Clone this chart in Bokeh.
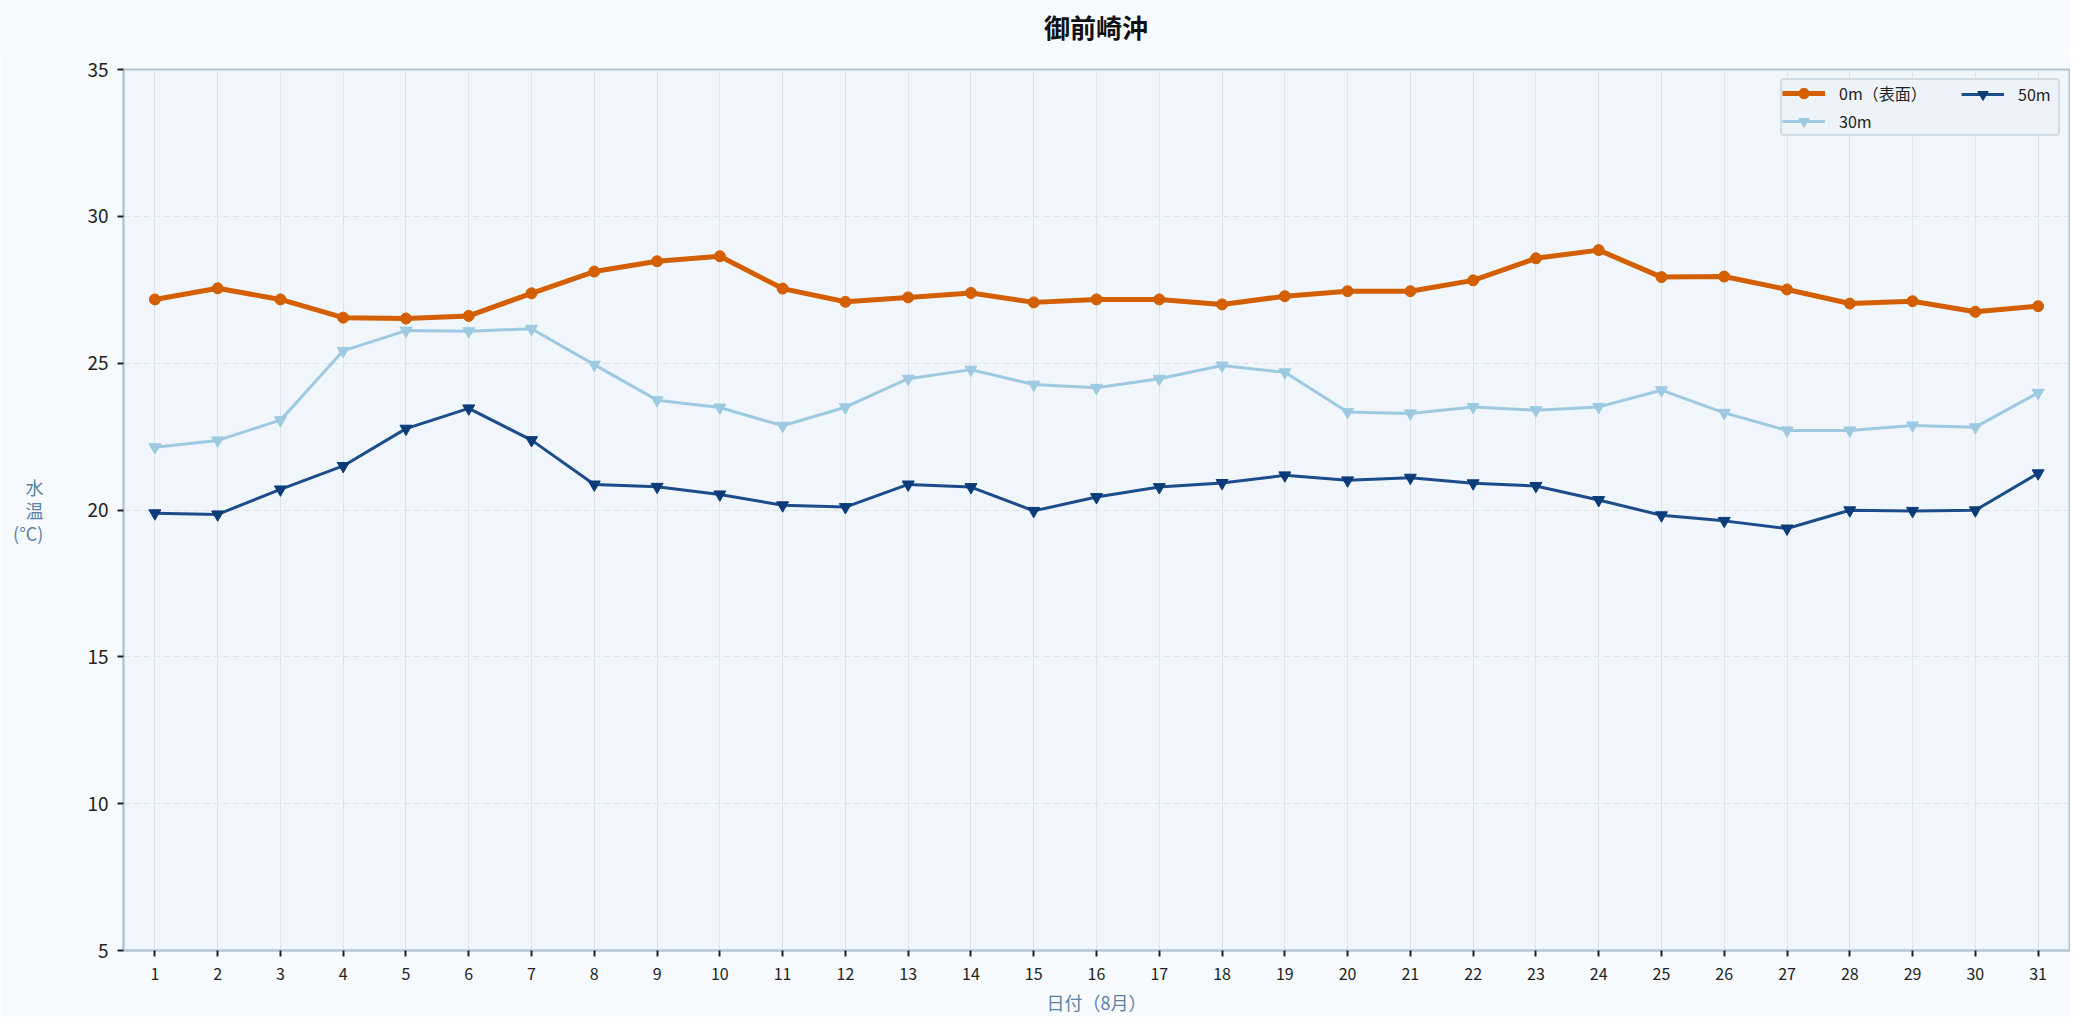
from bokeh.plotting import figure
from bokeh.layouts import column
from bokeh.models import FixedTicker, Legend, LegendItem, Div
from bokeh.embed import file_html
from bokeh.resources import INLINE

# data (August, off Omaezaki)
days = list(range(1, 32))
temp_0m = [27.17, 27.55, 27.17, 26.55, 26.52, 26.61, 27.38, 28.12, 28.47, 28.64,
           27.54, 27.09, 27.24, 27.39, 27.07, 27.17, 27.17, 27.00, 27.28, 27.45,
           27.45, 27.82, 28.57, 28.85, 27.93, 27.95, 27.51, 27.03, 27.11, 26.75,
           26.94]
temp_30m = [22.14, 22.37, 23.06, 25.42, 26.11, 26.09, 26.17, 24.95, 23.74, 23.49,
            22.87, 23.50, 24.47, 24.78, 24.27, 24.16, 24.47, 24.92, 24.69, 23.34,
            23.29, 23.51, 23.40, 23.51, 24.08, 23.31, 22.71, 22.71, 22.88, 22.82,
            23.99]
temp_50m = [19.89, 19.85, 20.70, 21.50, 22.77, 23.46, 22.38, 20.87, 20.79, 20.53,
            20.16, 20.10, 20.87, 20.78, 19.97, 20.44, 20.78, 20.92, 21.18, 21.01,
            21.10, 20.91, 20.82, 20.34, 19.82, 19.63, 19.37, 19.99, 19.97, 19.99,
            21.25]
y_ticks = [5, 10, 15, 20, 25, 30, 35]

FONT = "Noto Sans CJK JP"
SPINE = "#b3c5d5"
LABEL_BLUE = "#5b82a6"
PAGE_BG = "#f7fbff"

# title as a strip above the figure, centred over the plot frame
title = Div(
    text=(
        "<div style='margin-left:123px;width:1946px;text-align:center;"
        "line-height:54px;font-size:26px;font-weight:bold;color:#111111;"
        "font-family:\"Noto Sans CJK JP\";'>御前崎沖</div>"
    ),
    width=2070,
    height=54,
    margin=0,
    styles={"background-color": PAGE_BG},
)

p = figure(
    width=2070,
    height=963,
    x_range=(0.5, 31.5),
    y_range=(5, 35),
    toolbar_location=None,
    tools="",
    output_backend="svg",
    min_border_left=123,
    min_border_right=1,
    min_border_top=15,
    min_border_bottom=66,
)
p.background_fill_color = "#f0f6fc"
p.border_fill_color = PAGE_BG
p.outline_line_color = SPINE
p.outline_line_width = 2

# axes
p.xaxis.ticker = FixedTicker(ticks=days)
p.yaxis.ticker = FixedTicker(ticks=y_ticks)
for ax in (p.xaxis, p.yaxis):
    ax.axis_line_color = SPINE
    ax.axis_line_width = 2
    ax.major_tick_line_color = "#222222"
    ax.major_tick_line_width = 2
    ax.major_tick_out = 6
    ax.major_tick_in = 0
    ax.minor_tick_line_color = None
    ax.major_label_text_font = FONT
    ax.major_label_text_color = "#222222"
    ax.axis_label_text_font = FONT
    ax.axis_label_text_font_style = "normal"
    ax.axis_label_text_color = LABEL_BLUE
    ax.axis_label_text_font_size = "18px"
p.xaxis.major_label_text_font_size = "16px"
p.yaxis.major_label_text_font_size = "19px"
p.xaxis.major_label_standoff = 11
p.yaxis.major_label_standoff = 9
p.xaxis.axis_label = "日付（8月）"
p.xaxis.axis_label_text_line_height = 0.9
p.xaxis.axis_label_standoff = 6
p.yaxis.axis_label = "水\n温\n(°C)"
p.yaxis.axis_label_orientation = "horizontal"
p.yaxis.axis_label_text_line_height = 0.9
p.yaxis.axis_label_standoff = 41

# grid
p.xgrid.grid_line_color = "#dbe4ee"
p.xgrid.grid_line_width = 1
p.ygrid.grid_line_color = "#dbe4ee"
p.ygrid.grid_line_dash = "6 4"
p.ygrid.grid_line_width = 1

# series
l0 = p.line(days, temp_0m, line_color="#d35f00", line_width=5)
m0 = p.scatter(days, temp_0m, marker="circle", size=11,
               fill_color="#d35f00", line_color="#d35f00")
l30 = p.line(days, temp_30m, line_color="#9ecae1", line_width=3)
m30 = p.scatter(days, temp_30m, marker="inverted_triangle", size=12,
                fill_color="#9ecae1", line_color="#9ecae1")
l50 = p.line(days, temp_50m, line_color="#1c4c8a", line_width=3)
m50 = p.scatter(days, temp_50m, marker="inverted_triangle", size=12,
                fill_color="#0b3b78", line_color="#0b3b78")

legend_style = dict(
    location="top_right",
    label_text_font=FONT,
    label_text_font_size="16px",
    label_text_color="#222222",
    glyph_width=43,
    glyph_height=26,
    label_height=26,
    label_standoff=14,
    spacing=2,
)
# first column carries the frame, second column sits on top of it
legend = Legend(
    items=[
        LegendItem(label="0m（表面）", renderers=[l0, m0]),
        LegendItem(label="30m", renderers=[l30, m30]),
    ],
    label_width=219,
    padding=0,
    margin=9,
    background_fill_color="#eef3f9",
    background_fill_alpha=1.0,
    border_line_color=SPINE,
    border_line_width=2,
    border_radius=4,
    **legend_style,
)
legend2 = Legend(
    items=[LegendItem(label="50m", renderers=[l50, m50])],
    label_width=39,
    padding=9,
    margin=12,
    background_fill_alpha=0,
    border_line_color=None,
    **legend_style,
)
p.add_layout(legend)
p.add_layout(legend2)

layout = column(title, p, spacing=0)
open("out.html", "w").write(file_html(layout, INLINE))
